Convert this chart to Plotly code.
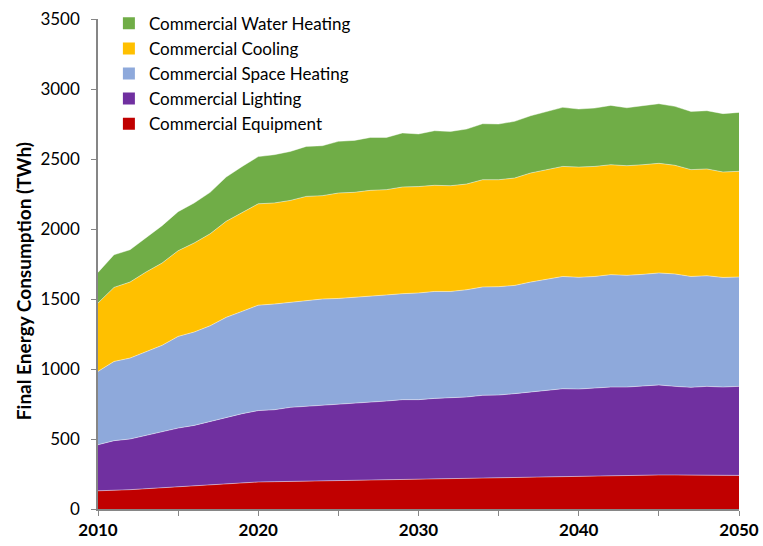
import plotly.graph_objects as go

years = list(range(2010, 2051))

equipment = [130, 133, 138, 145, 152, 161, 169, 176, 181, 188,
             193, 195, 197, 200, 202, 204, 207, 209, 211, 214,
             214, 216, 219, 221, 224, 226, 228, 231, 233, 236,
             236, 238, 240, 240, 243, 243, 243, 243, 243, 243, 240]
lighting = [329, 355, 362, 381, 395, 417, 428, 450, 476, 493,
            510, 514, 529, 533, 543, 548, 550, 555, 560, 567,
            567, 574, 574, 579, 588, 588, 596, 605, 614, 623,
            621, 626, 631, 631, 633, 643, 633, 626, 633, 628, 636]
space_heating = [524, 566, 578, 600, 622, 655, 667, 683, 712, 731,
                 753, 755, 750, 757, 755, 752, 757, 760, 758, 757,
                 762, 764, 761, 766, 774, 774, 773, 785, 796, 802,
                 798, 797, 803, 798, 800, 800, 803, 792, 790, 783, 781]
cooling = [488, 529, 543, 567, 588, 612, 636, 657, 686, 707,
           724, 722, 728, 743, 738, 753, 748, 752, 752, 762,
           760, 758, 755, 755, 766, 764, 767, 779, 781, 786,
           787, 786, 785, 783, 783, 783, 776, 763, 763, 753, 755]
water_heating = [219, 233, 231, 247, 267, 279, 286, 296, 316, 328,
                 337, 345, 350, 357, 357, 369, 371, 378, 373, 386,
                 376, 390, 388, 393, 400, 398, 405, 409, 416, 422,
                 415, 417, 424, 414, 422, 426, 421, 416, 416, 417, 421]

series = [
    ("Commercial Equipment", equipment, "#C00000"),
    ("Commercial Lighting", lighting, "#7030A0"),
    ("Commercial Space Heating", space_heating, "#8EA9DB"),
    ("Commercial Cooling", cooling, "#FFC000"),
    ("Commercial Water Heating", water_heating, "#70AD47"),
]

x_ticks = list(range(2010, 2051, 5))
x_ticktext = [str(v) if v % 10 == 0 else "" for v in x_ticks]
y_ticks = list(range(0, 3501, 500))
y_title = "Final Energy Consumption (TWh)"

FONT = "Lato"

fig = go.Figure()

# stacked areas
for name, vals, color in series:
    fig.add_trace(go.Scatter(
        x=years, y=vals, name=name, mode="lines",
        stackgroup="energy", fillcolor=color,
        line=dict(color="rgba(255,255,255,0.55)", width=0.8),
        showlegend=False, hoverinfo="x+y+name",
    ))

# square swatches for the legend, top entry = top band
for i, (name, vals, color) in enumerate(reversed(series)):
    fig.add_trace(go.Scatter(
        x=[None], y=[None], name=name, mode="markers",
        marker=dict(symbol="square", size=12, color=color),
        legendgroup=f"g{i}", showlegend=True,
    ))

axis_color = "#868686"

fig.update_layout(
    width=763, height=546,
    margin=dict(l=98, r=24, t=19, b=37, autoexpand=False),
    paper_bgcolor="white", plot_bgcolor="white",
    font=dict(family=FONT, color="#000000"),
    legend=dict(
        x=0.017, y=1.027, xanchor="left", yanchor="top",
        bgcolor="rgba(0,0,0,0)", font=dict(size=17, family=FONT),
        traceorder="normal", tracegroupgap=12, itemwidth=30,
    ),
    xaxis=dict(
        range=[2010, 2050], tickmode="array", tickvals=x_ticks, ticktext=x_ticktext,
        showgrid=False, zeroline=False, showline=True, linecolor=axis_color, linewidth=1.5,
        ticks="outside", ticklen=5, tickcolor=axis_color, tickwidth=1,
        tickfont=dict(size=17, family=FONT, color="#000000", weight="bold"),
        automargin=False,
    ),
    yaxis=dict(
        range=[0, 3500], tickmode="array", tickvals=y_ticks,
        showgrid=False, zeroline=False, showline=True, linecolor=axis_color, linewidth=1.5,
        ticks="outside", ticklen=5, tickcolor=axis_color, tickwidth=1,
        tickfont=dict(size=17, family=FONT, color="#000000"),
        ticklabelstandoff=8, automargin=False,
    ),
)

# vertical axis title
fig.add_annotation(
    text=y_title, textangle=-90, showarrow=False,
    xref="paper", yref="paper", x=-0.117, y=0.465,
    xanchor="center", yanchor="middle",
    font=dict(size=19, family=FONT, weight="bold", color="#000000"),
)

fig.write_html("out.html")
